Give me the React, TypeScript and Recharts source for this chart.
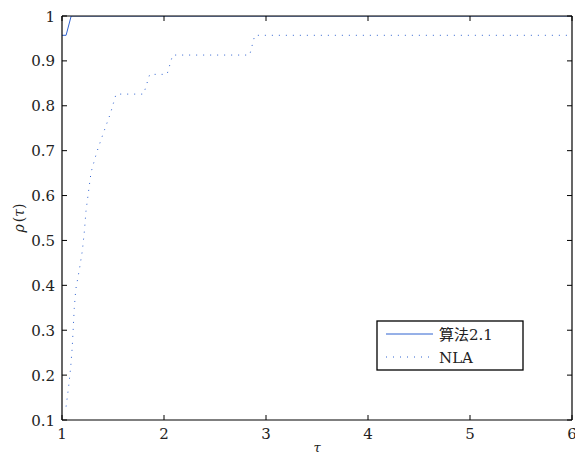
import React from 'react';
import { LineChart, Line, XAxis, YAxis } from 'recharts';

// performance profile, 23 problems
const xTicks = [1, 2, 3, 4, 5, 6];
const yTicks = [0.1, 0.2, 0.3, 0.4, 0.5, 0.6, 0.7, 0.8, 0.9, 1];

const algTau = [1, 1.04, 1.09, 6];
const algRho = [0.957, 0.957, 1, 1];

const nlaTau = [1.04, 1.065, 1.085, 1.1, 1.11, 1.12, 1.135, 1.17, 1.2, 1.22, 1.235, 1.26, 1.285, 1.34, 1.405, 1.475, 1.53, 1.8, 1.86, 2.03, 2.085, 2.84, 2.89, 6];
const nlaRho = [0.13, 0.174, 0.217, 0.261, 0.304, 0.348, 0.391, 0.435, 0.478, 0.522, 0.565, 0.609, 0.652, 0.696, 0.739, 0.783, 0.826, 0.826, 0.87, 0.87, 0.913, 0.913, 0.957, 0.957];

const seriesNames = ['算法2.1', 'NLA'];

const algData = algTau.map((x, i) => ({ x, y: algRho[i] }));
const nlaData = nlaTau.map((x, i) => ({ x, y: nlaRho[i] }));

const FONT = '"DejaVu Serif", "Noto Sans CJK SC", serif';
const BLUE = '#2f62d0';

const BottomTick = ({ x, y, payload }: any) => (
  <g>
    <line x1={x} x2={x} y1={y} y2={y - 5} stroke="#000" />
    <text x={x} y={y + 19} textAnchor="middle" fontSize={15} fontFamily={FONT} fill="#222">
      {payload.value}
    </text>
  </g>
);

const LeftTick = ({ x, y, payload }: any) => (
  <g>
    <line x1={x} x2={x + 5} y1={y} y2={y} stroke="#000" />
    <text x={x - 7} y={y + 5.5} textAnchor="end" fontSize={15} fontFamily={FONT} fill="#222">
      {payload.value}
    </text>
  </g>
);

const TopTick = ({ x, y }: any) => <line x1={x} x2={x} y1={y} y2={y + 5} stroke="#000" />;
const RightTick = ({ x, y }: any) => <line x1={x} x2={x - 5} y1={y} y2={y} stroke="#000" />;

export default function App() {
  return (
    <div style={{ position: 'absolute', left: 0, top: 0, width: 575, height: 457, background: '#fff' }}>
      <LineChart width={575} height={457} margin={{ top: 15, right: 2, bottom: 0, left: 0 }}>
        <XAxis
          dataKey="x"
          type="number"
          domain={[1, 6]}
          ticks={xTicks}
          interval={0}
          height={37}
          allowDataOverflow
          tickSize={0}
          tickMargin={0}
          tickLine={false}
          axisLine={{ stroke: '#000', strokeWidth: 1.2 }}
          tick={<BottomTick />}
        />
        <XAxis
          xAxisId="top"
          dataKey="x"
          orientation="top"
          type="number"
          domain={[1, 6]}
          ticks={xTicks}
          interval={0}
          height={1}
          allowDataOverflow
          tickSize={0}
          tickMargin={0}
          tickLine={false}
          axisLine={{ stroke: '#000', strokeWidth: 1.2 }}
          tick={<TopTick />}
        />
        <YAxis
          type="number"
          domain={[0.1, 1]}
          ticks={yTicks}
          interval={0}
          width={62}
          allowDataOverflow
          tickSize={0}
          tickMargin={0}
          tickLine={false}
          axisLine={{ stroke: '#000', strokeWidth: 1.2 }}
          tick={<LeftTick />}
        />
        <YAxis
          yAxisId="right"
          orientation="right"
          type="number"
          domain={[0.1, 1]}
          ticks={yTicks}
          interval={0}
          width={1}
          allowDataOverflow
          tickSize={0}
          tickMargin={0}
          tickLine={false}
          axisLine={{ stroke: '#000', strokeWidth: 1.2 }}
          tick={<RightTick />}
        />
        <Line
          data={nlaData}
          dataKey="y"
          name={seriesNames[1]}
          type="linear"
          stroke={BLUE}
          strokeWidth={1}
          strokeDasharray="1 6"
          dot={false}
          activeDot={false}
          isAnimationActive={false}
        />
        <Line
          data={algData}
          dataKey="y"
          name={seriesNames[0]}
          type="linear"
          stroke={BLUE}
          strokeWidth={1}
          dot={false}
          activeDot={false}
          isAnimationActive={false}
        />
        {/* invisible series so the top / right box axes get drawn */}
        <Line
          xAxisId="top"
          yAxisId="right"
          data={algData}
          dataKey="y"
          legendType="none"
          stroke="none"
          dot={false}
          activeDot={false}
          isAnimationActive={false}
        />
      </LineChart>
      <svg width={575} height={457} style={{ position: 'absolute', left: 0, top: 0, pointerEvents: 'none' }}>
        <text
          transform="translate(24,218) rotate(-90)"
          textAnchor="middle"
          fontSize={14}
          fontFamily={FONT}
          fill="#222"
        >
          <tspan fontStyle="italic">ρ</tspan>
          <tspan dx={2}>(</tspan>
          <tspan fontStyle="italic">τ</tspan>
          <tspan>)</tspan>
        </text>
        <text x={317} y={452} textAnchor="middle" fontSize={13} fontStyle="italic" fontFamily={FONT} fill="#222">
          τ
        </text>
        <rect x={377} y={321} width={146} height={49} fill="#fff" stroke="#000" strokeWidth={1.3} />
        <line x1={386} x2={433} y1={334} y2={334} stroke={BLUE} strokeWidth={1} />
        <text x={439} y={340} fontSize={15} fontFamily={FONT} fill="#222">
          {seriesNames[0]}
        </text>
        <line x1={386} x2={433} y1={357} y2={357} stroke={BLUE} strokeWidth={1} strokeDasharray="1 6" />
        <text x={439} y={363} fontSize={15} fontFamily={FONT} fill="#222">
          {seriesNames[1]}
        </text>
      </svg>
    </div>
  );
}
